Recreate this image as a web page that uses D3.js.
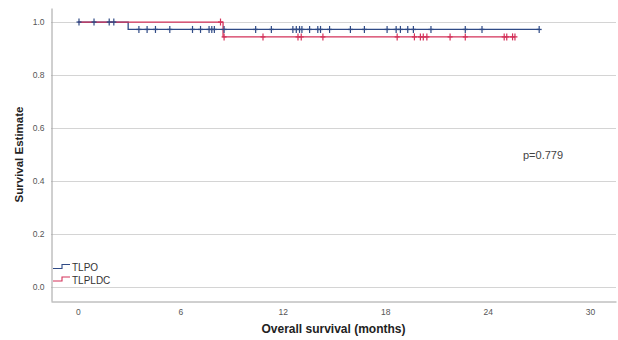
<!DOCTYPE html>
<html lang="en">
<head>
<meta charset="UTF-8">
<title>Survival curve</title>
<script src="https://d3js.org/d3.v7.min.js"></script>
<style>
  body { margin: 0; background: #fff; }
  svg { display: block; font-family: "Liberation Sans", Arial, sans-serif; }
</style>
</head>
<body>
<svg width="618" height="340"></svg>
<script>
// groups
const groups = ['TLPO', 'TLPLDC'];
const colors = ['#2f4a86', '#d4325a'];

// step points (time in months, survival)
const tlpoTimes = [0, 2.94, 27.02];
const tlpoSurv = [1.0, 0.972, 0.972];
const tlpldcTimes = [0, 8.5, 25.6];
const tlpldcSurv = [1.0, 0.944, 0.944];

// censored times
const tlpoCensored = [0.06, 0.94, 1.83, 2.1, 3.57, 4.05, 4.54, 5.38, 6.71, 7.18, 7.68, 7.84, 7.99,
  8.56, 10.41, 11.33, 12.59, 12.79, 12.98, 13.12, 13.57, 14.05, 14.21, 14.74, 15.96, 16.78,
  18.11, 18.64, 18.89, 19.32, 19.65, 20.68, 22.69, 23.67, 27.02];
const tlpldcCensored = [8.35, 8.56, 10.84, 12.89, 13.08, 14.35, 18.70, 19.71, 20.06, 20.23,
  20.44, 21.80, 22.69, 24.97, 25.12, 25.46, 25.6];

const xTicks = [0, 6, 12, 18, 24, 30];
const yTicks = [0, 0.2, 0.4, 0.6, 0.8, 1.0];
const pText = 'p=0.779';

const series = [
  { name: groups[0], times: tlpoTimes, surv: tlpoSurv, cens: tlpoCensored, color: colors[0] },
  { name: groups[1], times: tlpldcTimes, surv: tlpldcSurv, cens: tlpldcCensored, color: colors[1] }
];

const plotLeft = 51, plotRight = 616, plotTop = 8, plotBottom = 301;

const x = d3.scaleLinear().domain([-1.58, 31.52]).range([plotLeft, plotRight]);
const y = d3.scaleLinear().domain([-0.053, 1.053]).range([plotBottom, plotTop]);

const svg = d3.select('svg');

// gridlines
svg.append('g')
  .selectAll('line')
  .data(yTicks)
  .enter()
  .append('line')
  .attr('x1', plotLeft).attr('x2', plotRight)
  .attr('y1', d => Math.round(y(d)) + 0.5)
  .attr('y2', d => Math.round(y(d)) + 0.5)
  .attr('stroke', '#d4d4d4')
  .attr('stroke-width', 1);

// axes
const xAxis = svg.append('g')
  .attr('transform', `translate(0,${plotBottom + 0.5})`)
  .call(d3.axisBottom(x).tickValues(xTicks).tickSize(0).tickPadding(7).tickFormat(d3.format('d')));
const yAxis = svg.append('g')
  .attr('transform', `translate(${plotLeft + 0.5},0)`)
  .call(d3.axisLeft(y).tickValues(yTicks).tickSize(0).tickPadding(7).tickFormat(d3.format('.1f')));

[xAxis, yAxis].forEach(a => {
  a.select('.domain').attr('stroke', '#a0a0a0');
  a.selectAll('text')
    .attr('fill', '#555')
    .style('font-size', '8.5px')
    .style('font-family', '"Liberation Sans", Arial, sans-serif');
});

// axis titles
svg.append('text')
  .attr('x', (plotLeft + plotRight) / 2)
  .attr('y', 333)
  .attr('text-anchor', 'middle')
  .attr('font-size', '12px')
  .attr('font-weight', 'bold')
  .attr('fill', '#222')
  .text('Overall survival (months)');

svg.append('text')
  .attr('transform', `translate(23,${(plotTop + plotBottom) / 2}) rotate(-90)`)
  .attr('text-anchor', 'middle')
  .attr('font-size', '11.5px')
  .attr('font-weight', 'bold')
  .attr('fill', '#222')
  .text('Survival Estimate');

// survival at a given time (step function)
function survAt(s, t) {
  let v = s.surv[0];
  s.times.forEach((tt, i) => { if (tt <= t) v = s.surv[i]; });
  return v;
}

const line = d3.line()
  .x(d => x(d[0]))
  .y(d => y(d[1]))
  .curve(d3.curveStepAfter);

// draw TLPO first, then TLPLDC on top
series.forEach(s => {
  const pts = s.times.map((t, i) => [t, s.surv[i]]);
  svg.append('path')
    .datum(pts)
    .attr('fill', 'none')
    .attr('stroke', s.color)
    .attr('stroke-width', 1.3)
    .attr('d', line);
});

series.forEach(s => {
  const g = svg.append('g');
  g.selectAll('line.v')
    .data(s.cens)
    .enter()
    .append('line')
    .attr('class', 'v')
    .attr('x1', d => x(d)).attr('x2', d => x(d))
    .attr('y1', d => y(survAt(s, d)) - 3.5)
    .attr('y2', d => y(survAt(s, d)) + 3.5)
    .attr('stroke', s.color)
    .attr('stroke-width', 1.2);
  g.selectAll('line.h')
    .data(s.cens)
    .enter()
    .append('line')
    .attr('class', 'h')
    .attr('x1', d => x(d) - 2.5).attr('x2', d => x(d) + 2.5)
    .attr('y1', d => y(survAt(s, d)))
    .attr('y2', d => y(survAt(s, d)))
    .attr('stroke', s.color)
    .attr('stroke-width', 1.3);
});

// legend
const legend = svg.append('g').attr('transform', 'translate(53,267)');
series.forEach((s, i) => {
  const gy = i * 12.5;
  legend.append('path')
    .attr('d', `M0,${gy + 1.5} H9 V${gy - 2.5} H17`)
    .attr('fill', 'none')
    .attr('stroke', s.color)
    .attr('stroke-width', 1.1);
  legend.append('text')
    .attr('x', 19)
    .attr('y', gy + 4)
    .attr('font-size', '10px')
    .attr('fill', '#333')
    .text(s.name);
});

// p value
svg.append('text')
  .attr('x', 523)
  .attr('y', 159)
  .attr('font-size', '11px')
  .attr('fill', '#444')
  .text(pText);
</script>
</body>
</html>
